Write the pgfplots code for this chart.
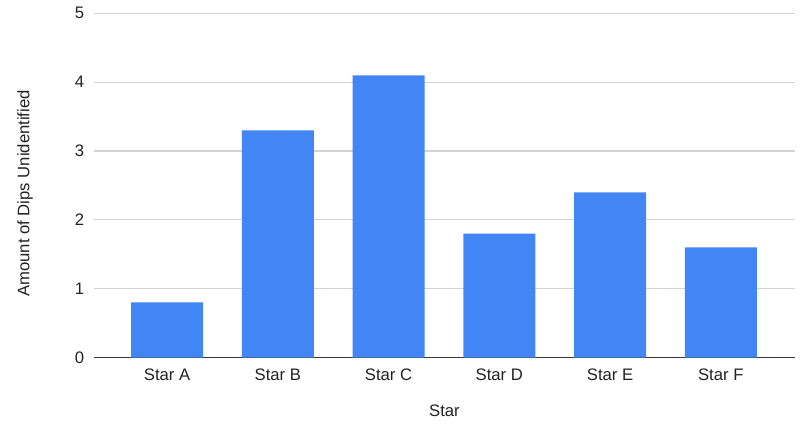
\documentclass[border=0pt]{standalone}
\usepackage{pgfplots}
\pgfplotsset{compat=1.18}
\usepackage{fontspec}
\setmainfont{Liberation Sans}
\definecolor{barblue}{HTML}{4285F4}
\definecolor{gridgray}{HTML}{D3D3D3}
\definecolor{txt}{HTML}{222222}
\begin{document}
\fontsize{12.5}{14}\selectfont
\begin{tikzpicture}
\useasboundingbox (-70.5pt,-51.375pt) rectangle (534pt,268.125pt);
\begin{axis}[
  at={(0,0)}, anchor=south west,
  scale only axis, width=525.75pt, height=258.15pt,
  xmin=-0.66, xmax=5.67, ymin=0, ymax=5,
  ytick={0,1,2,3,4,5},
  xtick=data, xticklabels={Star A,Star B,Star C,Star D,Star E,Star F},
  axis line style={draw=none},
  major tick length=0pt,
  ymajorgrids, grid style={color=gridgray, line width=0.9pt},
  extra y ticks={0}, extra y tick labels={},
  extra y tick style={grid style={color=txt!90, line width=1pt}},
  ticklabel style={font=\fontsize{12.5}{14}\selectfont, text=txt},
  /pgf/number format/assume math mode=true,
  yticklabel style={xshift=-3pt},
  xticklabel style={yshift=-4pt},
  xlabel={Star}, ylabel={Amount of Dips Unidentified},
  label style={font=\fontsize{12.5}{14}\selectfont, text=txt},
  xlabel style={at={(axis description cs:0.5,-0.1554)}, anchor=center},
  ylabel style={at={(axis description cs:-0.0984,0.4765)}, anchor=center},
  ybar, bar width=54pt,
]
\addplot[fill=barblue, draw=none] coordinates {(0,0.8) (1,3.3) (2,4.1) (3,1.8) (4,2.4) (5,1.6)};
\end{axis}
\end{tikzpicture}
\end{document}
